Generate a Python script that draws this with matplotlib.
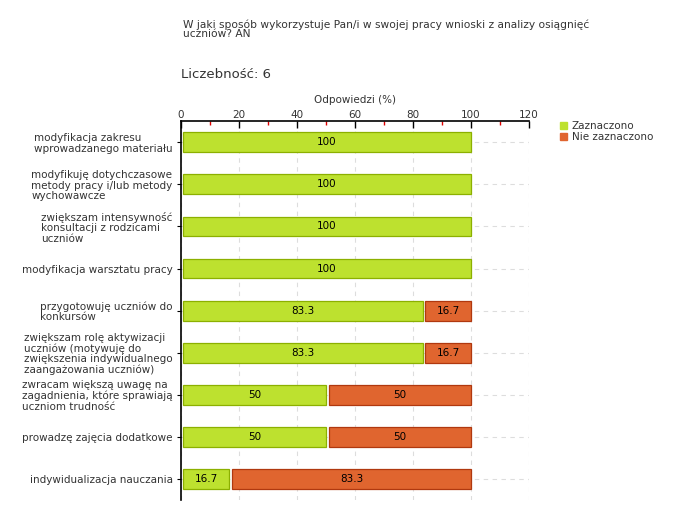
import numpy as np
import matplotlib
matplotlib.use('Agg')
import matplotlib.pyplot as plt
from matplotlib.ticker import MultipleLocator

categories = [
    'modyfikacja zakresu\nwprowadzanego materiału',
    'modyfikuję dotychczasowe\nmetody pracy i/lub metody\nwychowawcze',
    'zwiększam intensywność\nkonsultacji z rodzicami\nuczniów',
    'modyfikacja warsztatu pracy',
    'przygotowuję uczniów do\nkonkursów',
    'zwiększam rolę aktywizacji\nuczniów (motywuję do\nzwiększenia indywidualnego\nzaangażowania uczniów)',
    'zwracam większą uwagę na\nzagadnienia, które sprawiają\nuczniom trudność',
    'prowadzę zajęcia dodatkowe',
    'indywidualizacja nauczania',
]
zaznaczono = [100, 100, 100, 100, 83.3, 83.3, 50, 50, 16.7]
nie_zaznaczono = [0, 0, 0, 0, 16.7, 16.7, 50, 50, 83.3]

title = 'W jaki sposób wykorzystuje Pan/i w swojej pracy wnioski z analizy osiągnięć\nuczniów? AN'
count_text = 'Liczebność: 6'

green, green_edge = '#bde12f', '#8cb000'
orange, orange_edge = '#e0652f', '#b0380f'
text_col = '#333333'

fig = plt.figure(figsize=(6.8, 5.2), dpi=100)
ax = fig.add_axes([0.266, 0.038, 0.512, 0.729])

y = np.arange(len(categories))
h = 0.47
start = 0.6   # small offset of bars from the axis line
gap = 1.0     # white gap between stacked segments

z = np.array(zaznaczono)
nz = np.array(nie_zaznaczono)
ax.barh(y, z - start, height=h, left=start, color=green, edgecolor=green_edge, linewidth=0.9, zorder=3)
mask = nz > 0
ax.barh(y[mask], nz[mask] - gap, height=h, left=z[mask] + gap, color=orange,
        edgecolor=orange_edge, linewidth=0.9, zorder=3)

for i in range(len(categories)):
    ax.text((z[i] + start) / 2, y[i], f'{z[i]:g}', ha='center', va='center', fontsize=7.5, color='black', zorder=4)
    if nz[i] > 0:
        ax.text(z[i] + gap + (nz[i] - gap) / 2, y[i], f'{nz[i]:g}', ha='center', va='center',
                fontsize=7.5, color='black', zorder=4)

ax.set_xlim(0, 120)
ax.set_ylim(len(categories) - 0.5, -0.5)
ax.xaxis.set_major_locator(MultipleLocator(20))
ax.xaxis.set_minor_locator(MultipleLocator(10))
ax.xaxis.tick_top()
ax.xaxis.set_label_position('top')
ax.set_xlabel('Odpowiedzi (%)', fontsize=7.5, color=text_col, labelpad=5)
ax.tick_params(axis='x', which='major', length=5, width=1, color='black', labelsize=7.5,
               labelcolor=text_col, pad=1, direction='in')
ax.tick_params(axis='x', which='minor', length=3, width=1, color='#dd0000', direction='in')
ax.set_yticks(y)
ax.set_yticklabels(categories, fontsize=7.5, color=text_col, multialignment='left', linespacing=1.05)
ax.tick_params(axis='y', length=3, width=0.8, color='black', pad=3)

for s in ['right', 'bottom']:
    ax.spines[s].set_visible(False)
for s in ['left', 'top']:
    ax.spines[s].set_linewidth(1.2)

ax.grid(True, axis='both', which='major', linestyle=(0, (4, 4)), color='#dddddd', linewidth=0.8, zorder=0)
ax.set_axisbelow(True)

fig.text(183 / 680, 1 - 19 / 520, title, fontsize=7.7, color=text_col, va='top', ha='left', linespacing=0.95)
fig.text(181 / 680, 1 - 75 / 520, count_text, fontsize=9.5, color=text_col, va='center', ha='left')

handles = [plt.Rectangle((0, 0), 1, 1, color=green), plt.Rectangle((0, 0), 1, 1, color=orange)]
fig.legend(handles, ['Zaznaczono', 'Nie zaznaczono'], loc='upper left', bbox_to_anchor=(0.81, 0.785),
           frameon=False, fontsize=7.5, handlelength=0.7, handleheight=0.7, handletextpad=0.4,
           labelspacing=0.1, labelcolor=text_col)

fig.savefig('out.png', dpi=100, facecolor='white')
